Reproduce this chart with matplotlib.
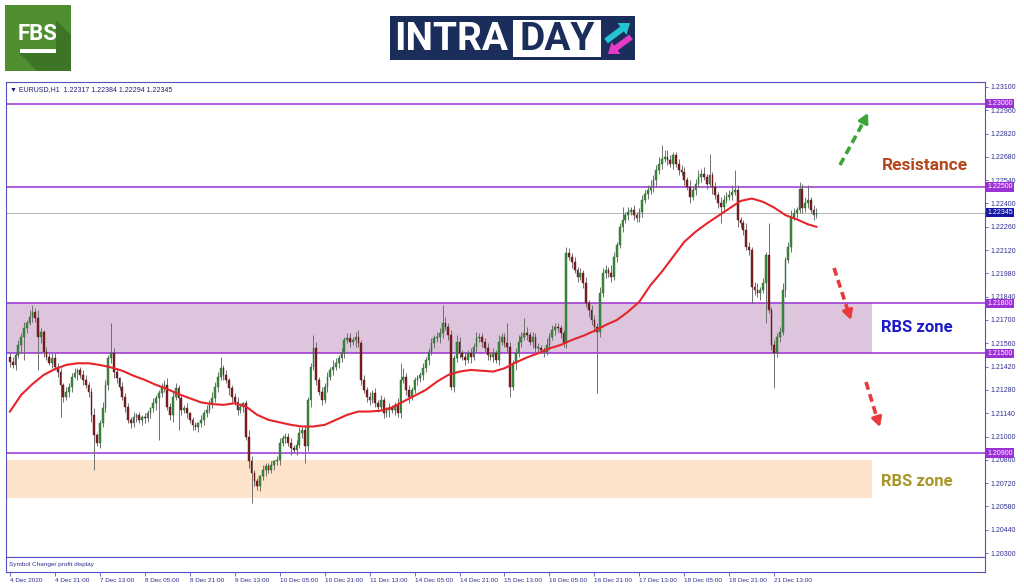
import numpy as np
import matplotlib.pyplot as plt
from matplotlib.patches import Rectangle, Polygon, FancyArrow

plt.rcParams['font.family'] = ['Liberation Sans', 'DejaVu Sans']

# EURUSD H1 closes in pips above 1.2000, one row = 16 bars = one time-label step
close_pips = [
    145, 143, 149, 155, 160, 165, 168, 172, 175, 171, 160, 163, 151, 148, 144, 147,
    142, 139, 131, 124, 127, 130, 136, 138, 140, 137, 134, 131, 127, 113, 101, 96,
    108, 117, 131, 147, 150, 139, 135, 130, 124, 118, 110, 108, 112, 113, 110, 112,
    111, 114, 117, 120, 123, 126, 130, 131, 118, 113, 124, 129, 123, 116, 117, 114,
    110, 107, 106, 108, 110, 114, 116, 120, 123, 130, 136, 141, 137, 134, 129, 124,
    121, 116, 118, 120, 100, 85, 78, 73, 70, 76, 80, 82, 80, 83, 85, 86,
    96, 99, 100, 96, 93, 92, 95, 102, 104, 94, 122, 142, 153, 134, 127, 122,
    130, 136, 140, 142, 144, 147, 150, 158, 159, 157, 158, 160, 156, 134, 128, 124,
    122, 126, 120, 118, 122, 114, 116, 117, 116, 119, 114, 134, 136, 128, 124, 128,
    134, 135, 137, 141, 146, 151, 156, 159, 160, 162, 168, 166, 161, 130, 147, 157,
    150, 148, 146, 150, 148, 154, 159, 160, 157, 153, 149, 148, 150, 146, 157, 160,
    156, 154, 130, 144, 150, 157, 160, 162, 161, 157, 160, 153, 153, 152, 151, 155,
    160, 164, 166, 165, 162, 156, 210, 208, 205, 200, 196, 198, 192, 180, 176, 170,
    166, 163, 186, 198, 200, 198, 196, 208, 215, 226, 230, 233, 235, 236, 233, 231,
    235, 242, 246, 248, 250, 254, 260, 264, 267, 268, 266, 264, 269, 264, 260, 259,
    254, 250, 244, 248, 252, 256, 258, 256, 252, 257, 250, 245, 240, 238, 242, 244,
    245, 247, 248, 230, 228, 224, 214, 212, 190, 188, 186, 188, 192, 209, 176, 155,
    150, 160, 163, 188, 206, 214, 232, 234, 236, 249, 237, 240, 242, 236, 233, 234.5,
]
first_open = 1.2148

# wick lengths in pips beyond the body, one digit per bar
wick_up = ''.join([
    "2313242432521323", "3221322312332241", "2432232132223121", "2213222342332223",
    "1221323243322312", "2321243221322212", "3222323423226423", "2324323233234232",
    "3232322322435232", "2223223233542324", "3232324222323242", "2532343542323224",
    "2322224323232423", "3243325322423232", "2323433444432233", "3242343423232433",
    "3423224323423232", "3234234324345233",
])
wick_dn = ''.join([
    "3232423132243213", "2323233142323432", "3223343223232323", "3232432323422323",
    "2323232232323243", "2323242323242232", "3232423232342323", "2323232323242323",
    "3223232423232342", "2323232324323232", "3232423232323232", "2332423232423232",
    "3232323242323243", "3232323232323232", "2323234232323232", "3242323232423232",
    "2324232323242323", "3232423232323232",
])
# long wicks (bar: price in pips above 1.2000)
spike_high = {8: 179, 36: 168, 75: 148, 108: 161, 139: 144, 154: 179, 177: 168,
              183: 171, 198: 214, 218: 238, 232: 275, 249: 270, 258: 260,
              270: 228, 284: 251}
spike_low = {5: 146, 10: 140, 18: 112, 30: 80, 53: 98, 60: 104, 86: 60, 105: 84,
             178: 124, 209: 126, 253: 228, 264: 180, 269: 168, 272: 129}

# moving average, read every 4 bars plus the last bar (pips above 1.2000)
ma_pips = [115, 125, 131.5, 137, 140.5, 143, 144, 144, 143, 141.5, 139.5, 136.5,
           134, 131, 128.5, 125.5, 123, 120.5, 119.5, 119, 120, 118, 113, 110,
           108.5, 107, 106, 106, 107, 110, 113, 115, 115, 115.5, 117.5, 121,
           124.5, 128, 133, 137, 139, 140, 139.5, 139, 141, 144.5, 147.5, 150,
           153, 155, 158, 160.5, 163.5, 167, 170, 175, 181, 191, 199, 208,
           217, 223, 228, 232.5, 237, 241.5, 243, 241, 237.5, 233, 230.5, 227.5,
           226]

time_labels = ['4 Dec 2020', '4 Dec 21:00', '7 Dec 13:00', '8 Dec 05:00', '8 Dec 21:00',
               '9 Dec 13:00', '10 Dec 05:00', '10 Dec 21:00', '11 Dec 13:00',
               '14 Dec 05:00', '14 Dec 21:00', '15 Dec 13:00', '16 Dec 05:00',
               '16 Dec 21:00', '17 Dec 13:00', '18 Dec 05:00', '18 Dec 21:00',
               '21 Dec 13:00']

levels = [1.2300, 1.2250, 1.2180, 1.2150, 1.2090]
last_price = 1.22345
rbs_upper = (1.2150, 1.2180)
rbs_lower = (1.2063, 1.2086)

# build OHLC
close = 1.2 + np.array(close_pips) / 1e4
opn = np.r_[first_open, close[:-1]]
high = np.maximum(opn, close) + np.array([int(c) for c in wick_up]) / 1e4
low = np.minimum(opn, close) - np.array([int(c) for c in wick_dn]) / 1e4
for k, v in spike_high.items():
    high[k] = 1.2 + v / 1e4
for k, v in spike_low.items():
    low[k] = 1.2 + v / 1e4
idx = np.arange(len(close))
ma_x = np.r_[np.arange(0, len(close), 4), len(close) - 1]
ma = 1.2 + np.array(ma_pips) / 1e4

W, H = 1024, 587
fig = plt.figure(figsize=(W / 100, H / 100), dpi=100)
fig.patch.set_facecolor('white')


def box(l, t, r, b):
    return [l / W, 1 - b / H, (r - l) / W, (b - t) / H]


frame = '#5252c2'
xlim = (-1.4, 347)

ax = fig.add_axes(box(6, 82, 985, 557))
ax.set_xlim(*xlim)
ax.set_ylim(1.20276, 1.23130)

# zones
zone_end = 306.8
ax.fill_between([xlim[0], zone_end], *rbs_upper, color='#dcc5dd', lw=0, zorder=1)
ax.fill_between([xlim[0], zone_end], *rbs_lower, color='#fde3c9', lw=0, zorder=1)

for lv in levels:
    ax.axhline(lv, color='#9b30d4', lw=1.1, zorder=2)
ax.axhline(last_price, color='#a8a8a8', lw=0.6, zorder=2)

# candles
ax.vlines(idx, low, high, color='#707070', lw=0.7, zorder=3)
bull = close >= opn
body_lo = np.minimum(opn, close)
body_h = np.maximum(np.abs(close - opn), 0.00005)
ax.bar(idx[bull], body_h[bull], bottom=body_lo[bull], width=0.62,
       color='#3b8f3b', edgecolor='#23602a', lw=0.3, zorder=4)
ax.bar(idx[~bull], body_h[~bull], bottom=body_lo[~bull], width=0.62,
       color='#7d1f22', edgecolor='#5a1416', lw=0.3, zorder=4)

ax.plot(ma_x, ma, color='#e5252a', lw=1.5, zorder=5, solid_joinstyle='round')

# price scale
ax.set_xticks([])
ax.yaxis.tick_right()
yt = np.round(np.arange(1.2030, 1.23101, 0.0014), 5)
ax.set_yticks(yt, [f'{v:.5f}' for v in yt])
ax.tick_params(axis='y', labelsize=5, labelcolor='#2f2f8f', color=frame,
               length=2.5, width=0.6, pad=1.5)
for s in ax.spines.values():
    s.set_color(frame)
    s.set_linewidth(0.8)

for lv in levels:
    ax.text(1.0025, lv, f'{lv:.5f}', transform=ax.get_yaxis_transform(),
            fontsize=5, color='white', va='center', ha='left', zorder=10,
            bbox=dict(boxstyle='square,pad=0.18', fc='#9b30d4', ec='none'))
ax.text(1.0025, last_price, f'{last_price:.5f}', transform=ax.get_yaxis_transform(),
        fontsize=5, color='white', va='center', ha='left', zorder=10,
        bbox=dict(boxstyle='square,pad=0.18', fc='#1717a6', ec='none'))

ax.text(0.004, 0.992, '\u25bc EURUSD,H1  1.22317 1.22384 1.22294 1.22345',
        transform=ax.transAxes, fontsize=5, color='#1e1e70', va='top', ha='left')

# bottom panel with time axis
ax2 = fig.add_axes(box(6, 557, 985, 572))
ax2.set_xlim(*xlim)
ax2.set_ylim(0, 1)
ax2.set_yticks([])
for s in ax2.spines.values():
    s.set_color(frame)
    s.set_linewidth(0.8)
ax2.text(0.003, 0.5, 'Symbol Changer profit display', transform=ax2.transAxes,
         fontsize=4.6, color='#2f2f8f', va='center', ha='left')
ax2.set_xticks(np.arange(0, len(close), 16)[:len(time_labels)], time_labels)
ax2.tick_params(axis='x', labelsize=4.6, labelcolor='#2f2f8f', color=frame,
                length=3, width=0.6, pad=1.5)
for lbl in ax2.get_xticklabels():
    lbl.set_ha('left')

# overlay in pixel coordinates: logos and annotations
ov = fig.add_axes([0, 0, 1, 1], zorder=10)
ov.set_xlim(0, W)
ov.set_ylim(H, 0)
ov.axis('off')

# FBS logo
ov.add_patch(Rectangle((5, 5), 66, 66, fc='#4f8f30', ec='none'))
ov.add_patch(Polygon([(56, 20), (71, 35), (71, 71), (37, 71), (19, 53), (56, 53)],
                     closed=True, fc='#3d7425', ec='none'))
ov.text(37.5, 34, 'FBS', fontsize=16, fontweight='bold', color='white',
        ha='center', va='center', family='Roboto')
ov.add_patch(Rectangle((20, 49), 36, 4, fc='white', ec='none'))

# INTRADAY banner
ov.add_patch(Rectangle((390, 16), 245, 44, fc='#1b2d5b', ec='none'))
ov.text(394, 39.5, 'INTRA', fontsize=28, fontweight='bold', color='white',
        ha='left', va='center', family='Roboto')
ov.add_patch(Rectangle((513, 20), 88, 37, fc='white', ec='none'))
ov.text(557, 39.5, 'DAY', fontsize=28, fontweight='bold', color='#1b2d5b',
        ha='center', va='center', family='Roboto')
ov.add_patch(FancyArrow(606, 41, 16, -12, width=6, head_width=15, head_length=10,
                        length_includes_head=False, fc='#25c4d3', ec='none'))
ov.add_patch(FancyArrow(631, 37, -15, 11, width=6, head_width=15, head_length=10,
                        length_includes_head=False, fc='#e63bc9', ec='none'))

# dashed arrows
arrows = [((840, 165), (864, 121), (868, 113), '#3aa53a'),
          ((834, 268), (848, 311), (851, 320), '#e83a3a'),
          ((866, 382), (877, 418), (880, 427), '#e83a3a')]
for (x0, y0), (x1, y1), (x2, y2), col in arrows:
    ov.plot([x0, x1], [y0, y1], color=col, lw=2.6, dashes=(2.2, 1.3),
            solid_capstyle='butt')
    ov.annotate('', xy=(x2, y2), xytext=(x1, y1),
                arrowprops=dict(arrowstyle='-|>,head_length=0.55,head_width=0.3',
                                color=col, lw=2.2, shrinkA=0, shrinkB=0))

ov.text(925, 165, 'Resistance', fontsize=12.5, fontweight='bold', color='#b4461e',
        ha='center', va='center', family='Roboto')
ov.text(917, 327, 'RBS zone', fontsize=12, fontweight='bold', color='#1c1cc8',
        ha='center', va='center', family='Roboto')
ov.text(917, 482, 'RBS zone', fontsize=12, fontweight='bold', color='#a8962a',
        ha='center', va='center', family='Roboto')

fig.savefig('out.png', dpi=100)
